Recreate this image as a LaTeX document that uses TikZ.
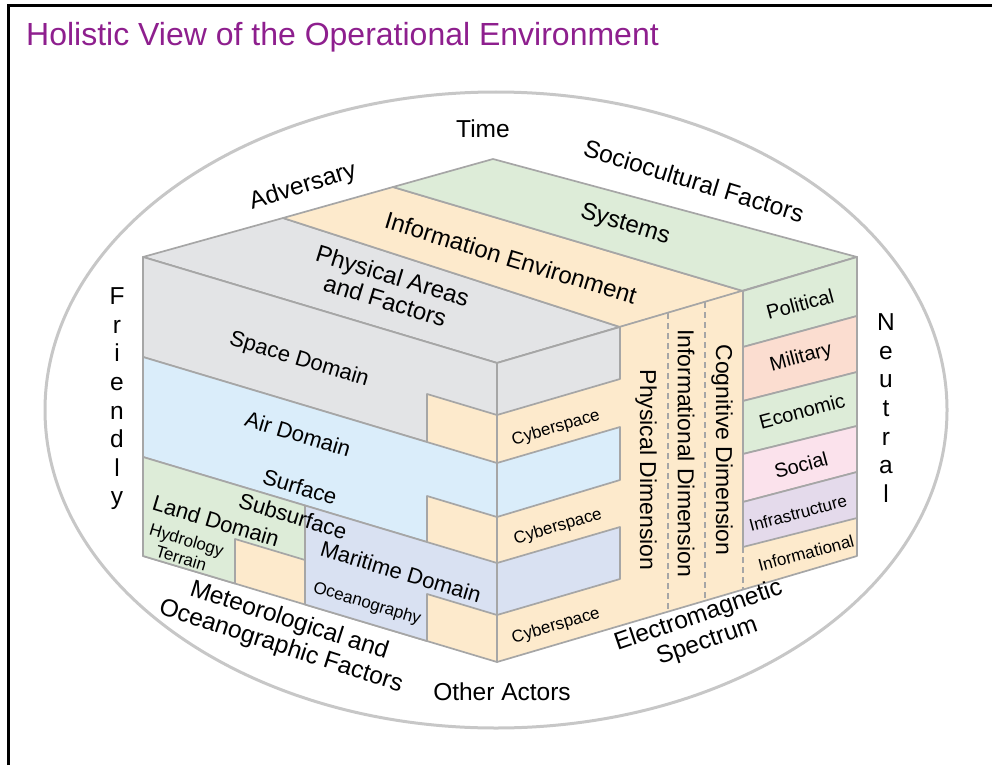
\documentclass[tikz,border=0pt]{standalone}
\usepackage{xcolor}
\usepackage{fontspec}
\setmainfont{Liberation Sans}
\usepackage{tikz}
\usetikzlibrary{calc}
\usetikzlibrary{positioning}

\definecolor{physgray}{HTML}{E3E4E6}
\definecolor{infoorange}{HTML}{FDEACC}
\definecolor{sysgreen}{HTML}{DDECD8}
\definecolor{airblue}{HTML}{DAEDFA}
\definecolor{seablue}{HTML}{D9E1F2}
\definecolor{milred}{HTML}{FBDDD0}
\definecolor{socpink}{HTML}{FBE2EC}
\definecolor{infrapurple}{HTML}{E4DAEB}
\definecolor{edgegray}{HTML}{A6A6A6}
\definecolor{titlepurple}{HTML}{8E1F8E}

\begin{document}
\begin{tikzpicture}[x=1pt,y=-1pt,
      face style/.style={draw=edgegray,line width=1.7pt,line join=round},
      dim line/.style={draw=edgegray,line width=1.6pt,dash pattern=on 6pt off 4pt},
      outer label/.style={font=\fontsize{24.5}{27}\selectfont,align=center,inner sep=0pt},
      top label/.style={font=\fontsize{24}{26}\selectfont,align=center,inner sep=0pt},
      domain label/.style={font=\fontsize{22}{24}\selectfont,align=center,inner sep=0pt},
      dim label/.style={font=\fontsize{23}{25}\selectfont,inner sep=0pt},
      pmesii label/.style={font=\fontsize{20}{22}\selectfont,inner sep=0pt},
      small label/.style={font=\fontsize{17}{19}\selectfont,align=center,inner sep=0pt},
      stack label/.style={font=\fontsize{24.5}{28.6}\selectfont,align=center,inner sep=0pt}
      ]
      \useasboundingbox (0,0) rectangle (992,765);
      \draw[line width=2.5pt] (8.5,765) -- (8.5,5.5) -- (992,5.5);
      \node[anchor=west,text=titlepurple,font=\fontsize{32}{34}\selectfont,inner sep=0pt] (title) at (26,37) {Holistic View of the Operational Environment};

      \draw[draw=black!22,line width=3pt] (496,410) ellipse [x radius=451pt, y radius=318pt];

      % top of the box
      \filldraw[face style,fill=physgray] (143,257) -- (283,218) -- (620,327) -- (497,363) -- cycle;
      \filldraw[face style,fill=infoorange] (283,218) -- (393,187) -- (743,291) -- (620,327) -- cycle;
      \filldraw[face style,fill=sysgreen] (393,187) -- (493,159) -- (857,257) -- (743,291) -- cycle;

      % right side
      \filldraw[face style,fill=infoorange] (497,363) -- (857,257) -- (857,556) -- (497,662) -- cycle;
      \filldraw[face style,fill=physgray] (497,363) -- (620,327) -- (620,379) -- (497,415) -- cycle;
      \filldraw[face style,fill=airblue] (497,463) -- (620,427) -- (620,480) -- (497,517) -- cycle;
      \filldraw[face style,fill=seablue] (497,563) -- (620,527) -- (620,579) -- (497,615) -- cycle;
      \filldraw[face style,fill=sysgreen] (743,291) -- (857,257) -- (857,316) -- (743,347) -- cycle;
      \filldraw[face style,fill=milred] (743,347) -- (857,316) -- (857,372) -- (743,401) -- cycle;
      \filldraw[face style,fill=sysgreen] (743,401) -- (857,372) -- (857,426) -- (743,454) -- cycle;
      \filldraw[face style,fill=socpink] (743,454) -- (857,426) -- (857,472) -- (743,502) -- cycle;
      \filldraw[face style,fill=infrapurple] (743,502) -- (857,472) -- (857,518) -- (743,547) -- cycle;
      \draw[dim line] (668,313) -- (668,611);
      \draw[dim line] (705,302) -- (705,601);
      \draw[dim line] (743,547) -- (743,589);

      % front side
      \filldraw[face style,fill=infoorange] (143,257) -- (497,363) -- (497,662) -- (143,556) -- cycle;
      \filldraw[face style,fill=physgray] (143,257) -- (497,363) -- (497,415) -- (427,394) -- (427,442) -- (143,357) -- cycle;
      \filldraw[face style,fill=airblue] (143,357) -- (497,463) -- (497,517) -- (427,496) -- (427,542) -- (143,457) -- cycle;
      \filldraw[face style,fill=sysgreen] (143,457) -- (305,505.5) -- (305,560) -- (235,539) -- (235,583.5) -- (143,556) -- cycle;
      \filldraw[face style,fill=seablue] (305,505.5) -- (497,563) -- (497,615) -- (427,594) -- (427,641) -- (305,604.5) -- cycle;
      \draw[face style,line width=2.4pt] (497,363) -- (497,662);

      \node[outer label] (time) at (483,129) {Time};
      \node[outer label,rotate=17] (adversary) at (303,187) {Adversary};
      \node[outer label,rotate=-17] (socio) at (694,181) {Sociocultural Factors};
      \node[stack label] (friendly) at (117,399) {F\\r\\i\\e\\n\\d\\l\\y};
      \node[stack label] (neutral) at (886,408) {N\\e\\u\\t\\r\\a\\l};

      \node[top label,rotate=-17] (systems) at (625,225) {Systems};
      \node[top label,rotate=-17] (infoenv) at (511,258) {Information Environment};
      \node[top label,rotate=-17] (physareas) at (389,288) {Physical Areas\\and Factors};

      \node[domain label,rotate=-16.7] (space) at (299,360) {Space Domain};
      \node[domain label,rotate=-16.7] (air) at (298,434) {Air Domain};
      \node[domain label,rotate=-16.7] (surface) at (300,487) {Surface};
      \node[domain label,rotate=-16.7] (subsurface) at (293,516) {Subsurface};
      \node[domain label,rotate=-16.7] (land) at (216,521) {Land Domain};
      \node[small label,rotate=-16.7] (hydro) at (184,549) {Hydrology\\Terrain};
      \node[domain label,rotate=-16.7] (maritime) at (401,572) {Maritime Domain};
      \node[small label,rotate=-16.7] (ocean) at (367,604) {Oceanography};

      \node[small label,rotate=16.4] (cyberA) at (556,428) {Cyberspace};
      \node[small label,rotate=16.4] (cyberB) at (558,527) {Cyberspace};
      \node[small label,rotate=16.4] (cyberC) at (556,626) {Cyberspace};

      \node[dim label,rotate=-90] (physdim) at (646,470) {Physical Dimension};
      \node[dim label,rotate=-90] (infodim) at (686,453) {Informational Dimension};
      \node[dim label,rotate=-90] (cogdim) at (722,450) {Cognitive Dimension};

      \node[pmesii label,rotate=15] (political) at (800,304) {Political};
      \node[pmesii label,rotate=15] (military) at (801,358) {Military};
      \node[pmesii label,rotate=15] (economic) at (802,411) {Economic};
      \node[pmesii label,rotate=15] (social) at (801,465) {Social};
      \node[small label,rotate=15] (infra) at (798,513) {Infrastructure};
      \node[small label,rotate=15] (informational) at (806,553) {Informational};

      \node[outer label,rotate=-18] (meteo) at (285,634) {Meteorological and\\Oceanographic Factors};
      \node[outer label,rotate=19] (ems) at (703,629) {Electromagnetic\\Spectrum};
      \node[outer label] (others) at (502,692) {Other Actors};
    \end{tikzpicture}
\end{document}
